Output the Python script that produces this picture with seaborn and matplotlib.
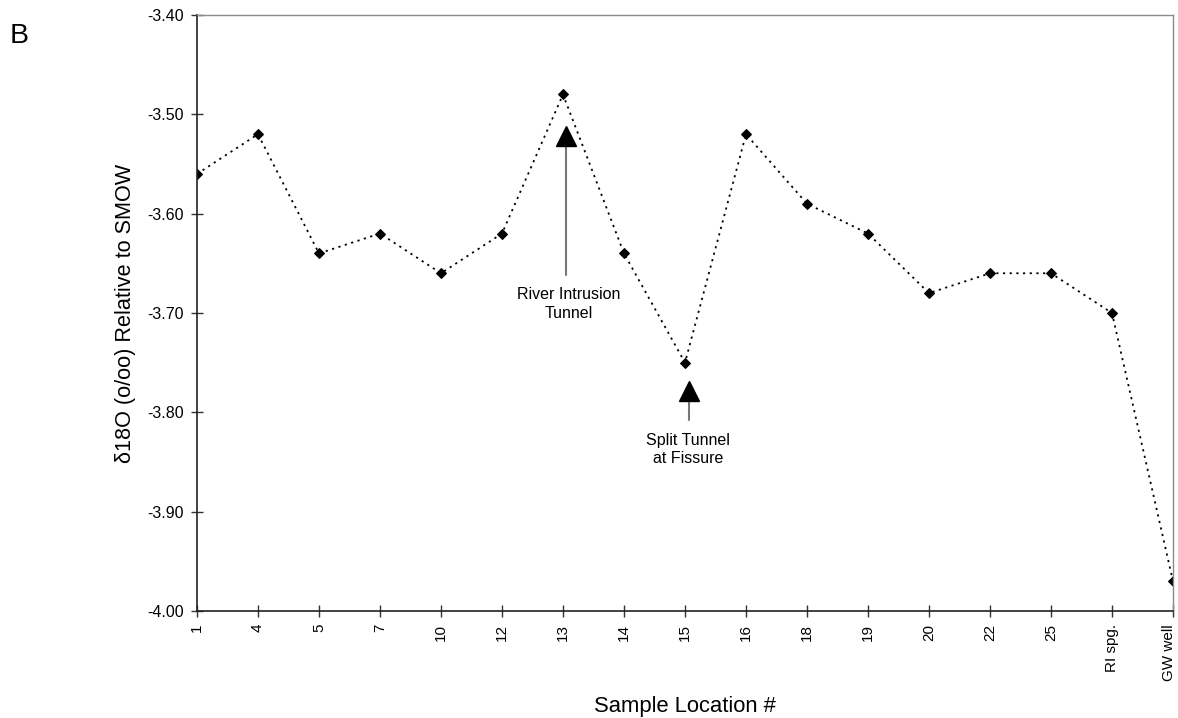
import matplotlib
matplotlib.use("Agg")
import matplotlib.pyplot as plt
import matplotlib.transforms as mtransforms
import seaborn as sns
import pandas as pd

# Sample locations along the cave system and their oxygen isotope values
locations = ["1", "4", "5", "7", "10", "12", "13", "14", "15", "16",
             "18", "19", "20", "22", "25", "RI spg.", "GW well"]
d18o = [-3.56, -3.52, -3.64, -3.62, -3.66, -3.62, -3.48, -3.64, -3.75, -3.52,
        -3.59, -3.62, -3.68, -3.66, -3.66, -3.70, -3.97]
y_ticks = [-4.00, -3.90, -3.80, -3.70, -3.60, -3.50, -3.40]

df = pd.DataFrame({"location": locations, "d18o": d18o})

sns.set_theme(style="white")
plt.rcParams["font.family"] = ["Liberation Sans", "DejaVu Sans"]
plt.rcParams["text.color"] = "black"
plt.rcParams["axes.labelcolor"] = "black"
plt.rcParams["xtick.color"] = "black"
plt.rcParams["ytick.color"] = "black"

W, H = 1178, 718
fig = plt.figure(figsize=(W / 100, H / 100), dpi=100)
ax = fig.add_axes([197 / W, 1 - 611 / H, (1173 - 197) / W, (611 - 15) / H])

sns.lineplot(data=df, x="location", y="d18o", sort=False, ax=ax,
             color="black", linestyle=(0, (1.2, 2.5)), linewidth=1.3,
             marker="D", markersize=5.5, markeredgecolor="black")

ax.set_xlim(0, len(locations) - 1)
ax.set_ylim(-4.00, -3.40)
ax.set_yticks(y_ticks)
ax.set_yticklabels([f"{v:.2f}" for v in y_ticks], fontsize=11.5)
ax.set_xticks(range(len(locations)))
ax.set_xticklabels(locations, rotation=90, fontsize=11)
ax.tick_params(axis="both", direction="inout", length=8.6, width=1, color="#333333",
               bottom=True, left=True, pad=5)

# keep the last category label inside the figure edge
last = ax.get_xticklabels()[-1]
last.set_transform(last.get_transform() +
                   mtransforms.ScaledTranslation(-4 / 100, 0, fig.dpi_scale_trans))

for side in ("left", "bottom"):
    ax.spines[side].set_color("#222222")
    ax.spines[side].set_linewidth(1.2)
for side in ("top", "right"):
    ax.spines[side].set_color("#8a8a8a")
    ax.spines[side].set_linewidth(1.0)

ax.set_xlabel("Sample Location #", fontsize=15.8, va="baseline")
ax.xaxis.set_label_coords(0.5, -(712 - 611) / 596)
ax.set_ylabel("δ18O (o/oo) Relative to SMOW", fontsize=15.6, va="center")
ax.yaxis.set_label_coords(-(197 - 125) / 976, 0.5)

# Arrows marking the river intrusion and the split tunnel
i13 = locations.index("13")
ax.plot([i13 + 0.05, i13 + 0.05], [-3.662, -3.53], color="#777777", linewidth=1.5)
ax.plot([i13 + 0.05], [-3.522], marker="^", markersize=14.5, color="black", linestyle="none")
ax.text(i13 + 0.09, -3.686, "River Intrusion", ha="center", va="baseline", fontsize=11.5)
ax.text(i13 + 0.09, -3.705, "Tunnel", ha="center", va="baseline", fontsize=11.5)

i15 = locations.index("15")
ax.plot([i15 + 0.066, i15 + 0.066], [-3.808, -3.785], color="#777777", linewidth=1.5)
ax.plot([i15 + 0.066], [-3.779], marker="^", markersize=14.5, color="black", linestyle="none")
ax.text(i15 + 0.05, -3.833, "Split Tunnel", ha="center", va="baseline", fontsize=11.5)
ax.text(i15 + 0.05, -3.851, "at Fissure", ha="center", va="baseline", fontsize=11.5)

fig.text(10 / W, 1 - 43 / H, "B", fontsize=20.5, ha="left", va="baseline")

fig.savefig("out.png", dpi=100, facecolor="white")
